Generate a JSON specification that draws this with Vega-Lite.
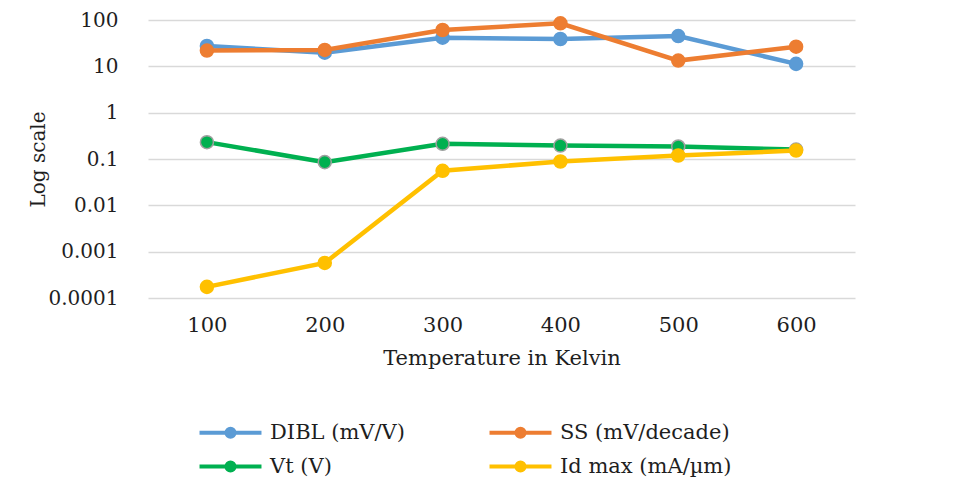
{
  "$schema": "https://vega.github.io/schema/vega-lite/v6.json",
  "width": 707,
  "height": 278,
  "autosize": {"type": "none"},
  "padding": {"left": 148, "top": 20, "right": 101, "bottom": 200},
  "background": "white",
  "config": {
    "view": {"stroke": null},
    "font": "DejaVu Serif",
    "axis": {"labelFont": "DejaVu Serif", "titleFont": "DejaVu Serif", "labelColor": "#1e1e1e", "titleColor": "#1e1e1e", "titleFontWeight": "normal"}
  },
  "data": {
    "values": [
      {"T": "100", "series": "DIBL (mV/V)", "value": 27.5},
      {"T": "200", "series": "DIBL (mV/V)", "value": 19.7},
      {"T": "300", "series": "DIBL (mV/V)", "value": 41.5},
      {"T": "400", "series": "DIBL (mV/V)", "value": 38.9},
      {"T": "500", "series": "DIBL (mV/V)", "value": 45},
      {"T": "600", "series": "DIBL (mV/V)", "value": 11.3},
      {"T": "100", "series": "SS (mV/decade)", "value": 21.9},
      {"T": "200", "series": "SS (mV/decade)", "value": 22.6},
      {"T": "300", "series": "SS (mV/decade)", "value": 60.8},
      {"T": "400", "series": "SS (mV/decade)", "value": 84.8},
      {"T": "500", "series": "SS (mV/decade)", "value": 13.3},
      {"T": "600", "series": "SS (mV/decade)", "value": 26.6},
      {"T": "100", "series": "Vt (V)", "value": 0.231},
      {"T": "200", "series": "Vt (V)", "value": 0.0857},
      {"T": "300", "series": "Vt (V)", "value": 0.213},
      {"T": "400", "series": "Vt (V)", "value": 0.195},
      {"T": "500", "series": "Vt (V)", "value": 0.186},
      {"T": "600", "series": "Vt (V)", "value": 0.16},
      {"T": "100", "series": "Id max (mA/µm)", "value": 0.000174},
      {"T": "200", "series": "Id max (mA/µm)", "value": 0.00057},
      {"T": "300", "series": "Id max (mA/µm)", "value": 0.0557},
      {"T": "400", "series": "Id max (mA/µm)", "value": 0.0883},
      {"T": "500", "series": "Id max (mA/µm)", "value": 0.119},
      {"T": "600", "series": "Id max (mA/µm)", "value": 0.152}
    ]
  },
  "encoding": {
    "x": {
      "field": "T",
      "type": "ordinal",
      "sort": null,
      "scale": {"type": "point", "padding": 0.5},
      "axis": {
        "title": "Temperature in Kelvin",
        "labelAngle": 0,
        "labelFontSize": 21,
        "labelPadding": 16,
        "tickSize": 0,
        "ticks": false,
        "domain": false,
        "grid": false,
        "titleFontSize": 21,
        "titlePadding": 12
      }
    },
    "y": {
      "field": "value",
      "type": "quantitative",
      "scale": {"type": "log", "domain": [0.0001, 100]},
      "axis": {
        "title": "Log scale",
        "values": [0.0001, 0.001, 0.01, 0.1, 1, 10, 100],
        "format": "~g",
        "labelFontSize": 20,
        "labelPadding": 30,
        "tickSize": 0,
        "ticks": false,
        "domain": false,
        "grid": true,
        "gridColor": "#d9d9d9",
        "gridWidth": 1.5,
        "titleFontSize": 20,
        "titleAngle": -90,
        "titleX": -110,
        "titleY": 139,
        "titleAlign": "center",
        "titleBaseline": "middle"
      }
    },
    "color": {
      "field": "series",
      "type": "nominal",
      "scale": {
        "domain": ["DIBL (mV/V)", "SS (mV/decade)", "Vt (V)", "Id max (mA/µm)"],
        "range": ["#5b9bd5", "#ed7d31", "#00b050", "#ffc000"]
      },
      "legend": {
        "title": null,
        "orient": "none",
        "direction": "horizontal",
        "legendX": 49,
        "legendY": 402,
        "columns": 2,
        "columnPadding": 76,
        "rowPadding": 9,
        "symbolType": "M-4,0H4M-0.52,0A0.52,0.52,0,1,1,0.52,0A0.52,0.52,0,1,1,-0.52,0Z",
        "symbolSize": 240,
        "symbolOffset": 23,
        "symbolStrokeWidth": 4,
        "labelFont": "DejaVu Serif",
        "labelFontSize": 21,
        "labelLimit": 0,
        "labelColor": "#1e1e1e",
        "labelOffset": 29,
        "encode": {
          "symbols": {
            "update": {
              "fill": {"scale": "color", "field": "value"},
              "stroke": {"scale": "color", "field": "value"},
              "opacity": {"value": 1}
            }
          }
        }
      }
    }
  },
  "layer": [
    {"mark": {"type": "line", "strokeWidth": 4.5}},
    {
      "mark": {"type": "point", "filled": true, "size": 170, "opacity": 1, "strokeWidth": 1.5},
      "encoding": {
        "stroke": {
          "condition": {"test": "datum.series === 'Vt (V)'", "value": "#a0a0a0"},
          "field": "series",
          "type": "nominal",
          "scale": {
            "domain": ["DIBL (mV/V)", "SS (mV/decade)", "Vt (V)", "Id max (mA/µm)"],
            "range": ["#5b9bd5", "#ed7d31", "#00b050", "#ffc000"]
          },
          "legend": null
        }
      }
    }
  ]
}
